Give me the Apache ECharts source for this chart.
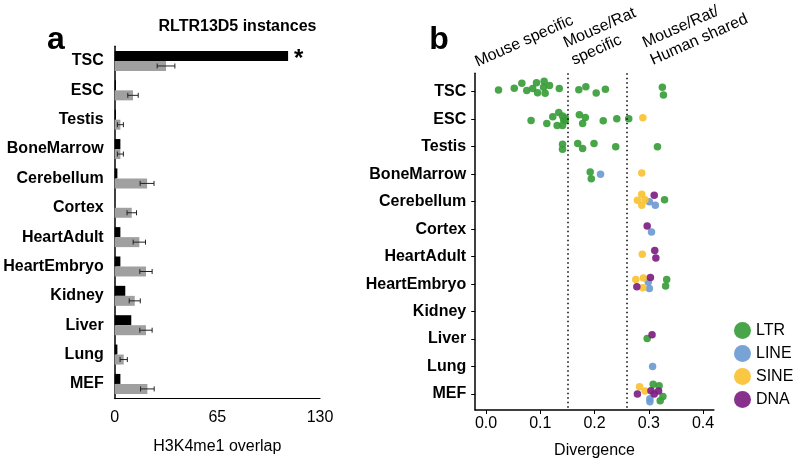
<!DOCTYPE html>
<html><head><meta charset="utf-8">
<script src="https://cdn.jsdelivr.net/npm/echarts@6/dist/echarts.min.js"></script>
<style>html,body{margin:0;padding:0;background:#fff}#c{width:800px;height:467px}</style>
</head><body><div id="c"></div>
<script>
const tissues = ['TSC','ESC','Testis','BoneMarrow','Cerebellum','Cortex','HeartAdult','HeartEmbryo','Kidney','Liver','Lung','MEF'];
// panel a
const rltrOverlap   = [109.8, 0.8, 0.8, 3.6, 1.7, 0, 3.6, 3.6, 6.7, 10.5, 1.7, 3.6];
const randomOverlap = [32.5, 11.6, 3.6, 3.6, 20.5, 10.8, 15.6, 19.8, 12.7, 19.8, 5.7, 20.7];
const randomError   = [5.6, 3.3, 1.9, 1.9, 4.4, 3.0, 3.9, 3.9, 3.5, 3.9, 2.3, 4.3];
const significant   = ['TSC'];
const overlapTicks  = [0, 65, 130];
// panel b
const divergenceTicks = [0, 0.1, 0.2, 0.3, 0.4];
const conservationBounds = [0.15, 0.26];
const headerLabels = ['Mouse specific', 'Mouse/Rat\nspecific', 'Mouse/Rat/\nHuman shared'];
const families = ['LTR', 'LINE', 'SINE', 'DNA'];
// [divergence, tissue, jitter]
const ltrPoints = [
  [0.023,'TSC',-0.06],[0.052,'TSC',-0.13],[0.066,'TSC',-0.31],[0.075,'TSC',-0.04],[0.086,'TSC',-0.12],
  [0.093,'TSC',-0.33],[0.095,'TSC',0.04],[0.107,'TSC',-0.38],[0.106,'TSC',-0.16],[0.109,'TSC',0.06],
  [0.117,'TSC',-0.23],[0.135,'TSC',-0.12],[0.171,'TSC',-0.07],[0.184,'TSC',-0.18],[0.203,'TSC',0.05],
  [0.220,'TSC',-0.09],[0.325,'TSC',-0.16],[0.327,'TSC',0.12],
  [0.083,'ESC',0.05],[0.112,'ESC',0.16],[0.123,'ESC',-0.09],[0.134,'ESC',-0.24],[0.131,'ESC',0.23],
  [0.141,'ESC',-0.12],[0.143,'ESC',0.03],[0.146,'ESC',0.06],[0.141,'ESC',0.23],[0.146,'ESC',-0.04],
  [0.172,'ESC',-0.16],[0.183,'ESC',-0.06],[0.178,'ESC',0.16],[0.216,'ESC',0.06],[0.241,'ESC',-0.02],
  [0.263,'ESC',-0.02],
  [0.141,'Testis',-0.09],[0.141,'Testis',0.09],[0.169,'Testis',-0.12],[0.178,'Testis',0.07],
  [0.199,'Testis',-0.12],[0.239,'Testis',0],[0.316,'Testis',0],
  [0.192,'BoneMarrow',-0.08],[0.194,'BoneMarrow',0.17],
  [0.329,'Cerebellum',-0.07],
  [0.333,'HeartEmbryo',-0.17],[0.331,'HeartEmbryo',0.07],
  [0.297,'Liver',-0.02],
  [0.308,'MEF',-0.36],[0.319,'MEF',-0.30],[0.326,'MEF',0.09],[0.321,'MEF',0.24]
];
const linePoints = [
  [0.211,'BoneMarrow',0],[0.301,'Cerebellum',0],[0.312,'Cerebellum',0.13],[0.305,'Cortex',0.10],
  [0.299,'HeartEmbryo',-0.08],[0.301,'HeartEmbryo',0.16],[0.307,'Lung',0],
  [0.302,'MEF',0.17],[0.302,'MEF',0.28]
];
const sinePoints = [
  [0.289,'ESC',-0.05],[0.287,'BoneMarrow',-0.04],[0.287,'Cerebellum',-0.27],[0.279,'Cerebellum',-0.05],
  [0.293,'Cerebellum',-0.07],[0.287,'Cerebellum',0.13],[0.288,'HeartAdult',-0.09],
  [0.276,'HeartEmbryo',-0.17],[0.290,'HeartEmbryo',-0.22],[0.289,'HeartEmbryo',0.13],
  [0.283,'MEF',-0.27],[0.293,'MEF',-0.11]
];
const dnaPoints = [
  [0.310,'Cerebellum',-0.23],[0.297,'Cortex',-0.11],[0.311,'HeartAdult',-0.22],[0.313,'HeartAdult',0.05],
  [0.303,'HeartEmbryo',-0.24],[0.278,'HeartEmbryo',0.10],[0.306,'Liver',-0.16],
  [0.304,'MEF',-0.12],[0.318,'MEF',-0.11],[0.279,'MEF',0],[0.310,'MEF',0]
];

const FONT = 'Liberation Sans, Arial, sans-serif';
const famColors = {LTR:'#3a9d3a', LINE:'#6b9bd2', SINE:'#f9c232', DNA:'#7d1f83'};
const famData = {LTR:ltrPoints, LINE:linePoints, SINE:sinePoints, DNA:dnaPoints};
const toXY = pts => pts.map(p => [p[0], tissues.indexOf(p[1]) + p[2]]);

const BAR_W = 10;
const chart = echarts.init(document.getElementById('c'), null, {renderer:'canvas'});

const scatterSeries = families.map((f, k) => ({
  name: f, type: 'scatter', xAxisIndex: 1, yAxisIndex: 1,
  symbol: 'circle', symbolSize: 7.5,
  itemStyle: {color: famColors[f], opacity: 0.92},
  data: toXY(famData[f]),
  markLine: k === 0 ? {
    silent: true, symbol: ['none','none'], label: {show:false},
    lineStyle: {color:'#000', type:[1.5,3], width:1.5},
    data: conservationBounds.map(v => ({xAxis: v}))
  } : undefined
}));

const option = {
  backgroundColor: '#fff',
  animation: false,
  textStyle: {fontFamily: FONT},
  grid: [
    {left: 114.7, top: 46.3, width: 205.3, height: 352.3, containLabel: false},
    {left: 475.2, top: 73.3, width: 238.7, height: 336.7, containLabel: false}
  ],
  xAxis: [
    {gridIndex: 0, type: 'value', min: overlapTicks[0], max: overlapTicks[2], interval: overlapTicks[1],
     axisLine: {show: true, onZero: false, lineStyle: {color:'#000', width:1.2}},
     axisTick: {show: false}, splitLine: {show: false},
     axisLabel: {color:'#000', fontSize: 16, margin: 11, fontFamily: FONT},
     name: 'H3K4me1 overlap', nameLocation: 'middle', nameGap: 40,
     nameTextStyle: {color:'#000', fontSize: 16, fontFamily: FONT}},
    {gridIndex: 1, type: 'value', min: -0.02, max: 0.42,
     axisLine: {show: true, onZero: false, lineStyle: {color:'#000', width:1.5}},
     axisTick: {show: true, length: 4, customValues: divergenceTicks, lineStyle:{color:'#000'}},
     splitLine: {show: false},
     axisLabel: {color:'#000', fontSize: 16, margin: 6, fontFamily: FONT,
       customValues: divergenceTicks, formatter: v => v.toFixed(1)},
     name: 'Divergence', nameLocation: 'middle', nameGap: 33,
     nameTextStyle: {color:'#000', fontSize: 16, fontFamily: FONT}}
  ],
  yAxis: [
    {gridIndex: 0, type: 'category', data: tissues, inverse: true,
     axisLine: {show: true, onZero: false, lineStyle: {color:'#000', width:1.5}},
     axisTick: {show: false},
     axisLabel: {color:'#000', fontSize: 16, fontWeight: 'bold', margin: 11, fontFamily: FONT}},
    {gridIndex: 1, type: 'value', inverse: true, min: -0.67, max: 11.58,
     axisLine: {show: true, onZero: false, lineStyle: {color:'#000', width:1.5}},
     axisTick: {show: true, length: 4, customValues: tissues.map((t,i)=>i), lineStyle:{color:'#000'}},
     splitLine: {show: false},
     axisLabel: {color:'#000', fontSize: 16, fontWeight: 'bold', margin: 9, fontFamily: FONT,
       customValues: tissues.map((t,i)=>i), formatter: v => tissues[Math.round(v)]}}
  ],
  legend: {
    data: families, orient: 'vertical', left: 729, top: 317,
    icon: 'circle', itemWidth: 17, itemHeight: 17, itemGap: 6,
    textStyle: {color:'#000', fontSize: 16, fontFamily: FONT}
  },
  series: [
    {name: 'RLTR13D5', type: 'bar', xAxisIndex: 0, yAxisIndex: 0, barWidth: BAR_W, barGap: '0%',
     itemStyle: {color: '#000'},
     data: rltrOverlap.map((v, i) => significant.includes(tissues[i]) ? {
       value: v, label: {show: true, formatter: '*', position: 'right', distance: 6,
         fontSize: 24, fontWeight: 'bold', color: '#000', offset: [0, 3]}} : v)},
    {name: 'Random', type: 'bar', xAxisIndex: 0, yAxisIndex: 0, barWidth: BAR_W, barGap: '0%',
     itemStyle: {color: '#a0a0a0'}, data: randomOverlap},
    {name: 'err', type: 'custom', xAxisIndex: 0, yAxisIndex: 0, z: 5,
     encode: {x: 0, y: 1},
     data: randomOverlap.map((v, i) => [v, i, randomError[i]]),
     renderItem: (params, api) => {
       const v = api.value(0), c = api.value(1), e = api.value(2);
       const lo = api.coord([v - e, c]), hi = api.coord([v + e, c]);
       const y = lo[1] + BAR_W / 2;
       const style = {stroke: '#222', lineWidth: 1};
       return {type: 'group', children: [
         {type: 'line', shape: {x1: lo[0], y1: y, x2: hi[0], y2: y}, style},
         {type: 'line', shape: {x1: lo[0], y1: y - 2.5, x2: lo[0], y2: y + 2.5}, style},
         {type: 'line', shape: {x1: hi[0], y1: y - 2.5, x2: hi[0], y2: y + 2.5}, style}
       ]};
     }},
    ...scatterSeries
  ],
  graphic: [
    {type: 'text', x: 56, y: 40, style: {text: 'a', fontSize: 32, fontWeight: 'bold', fontFamily: FONT, fill: '#000', align: 'center', verticalAlign: 'middle'}},
    {type: 'text', x: 439, y: 40, style: {text: 'b', fontSize: 32, fontWeight: 'bold', fontFamily: FONT, fill: '#000', align: 'center', verticalAlign: 'middle'}},
    {type: 'text', x: 237.5, y: 27, style: {text: 'RLTR13D5 instances', fontSize: 16, fontWeight: 'bold', fontFamily: FONT, fill: '#000', align: 'center', verticalAlign: 'middle'}},
    {type: 'text', x: 472, y: 54, rotation: 24 * Math.PI / 180, style: {text: headerLabels[0], fontSize: 16, fontFamily: FONT, fill: '#000', align: 'left', verticalAlign: 'top', lineHeight: 19}},
    {type: 'text', x: 560.5, y: 35, rotation: 24 * Math.PI / 180, style: {text: headerLabels[1], fontSize: 16, fontFamily: FONT, fill: '#000', align: 'left', verticalAlign: 'top', lineHeight: 19}},
    {type: 'text', x: 639.5, y: 35, rotation: 24 * Math.PI / 180, style: {text: headerLabels[2], fontSize: 16, fontFamily: FONT, fill: '#000', align: 'left', verticalAlign: 'top', lineHeight: 19}}
  ]
};
chart.setOption(option);
</script>
</body></html>
